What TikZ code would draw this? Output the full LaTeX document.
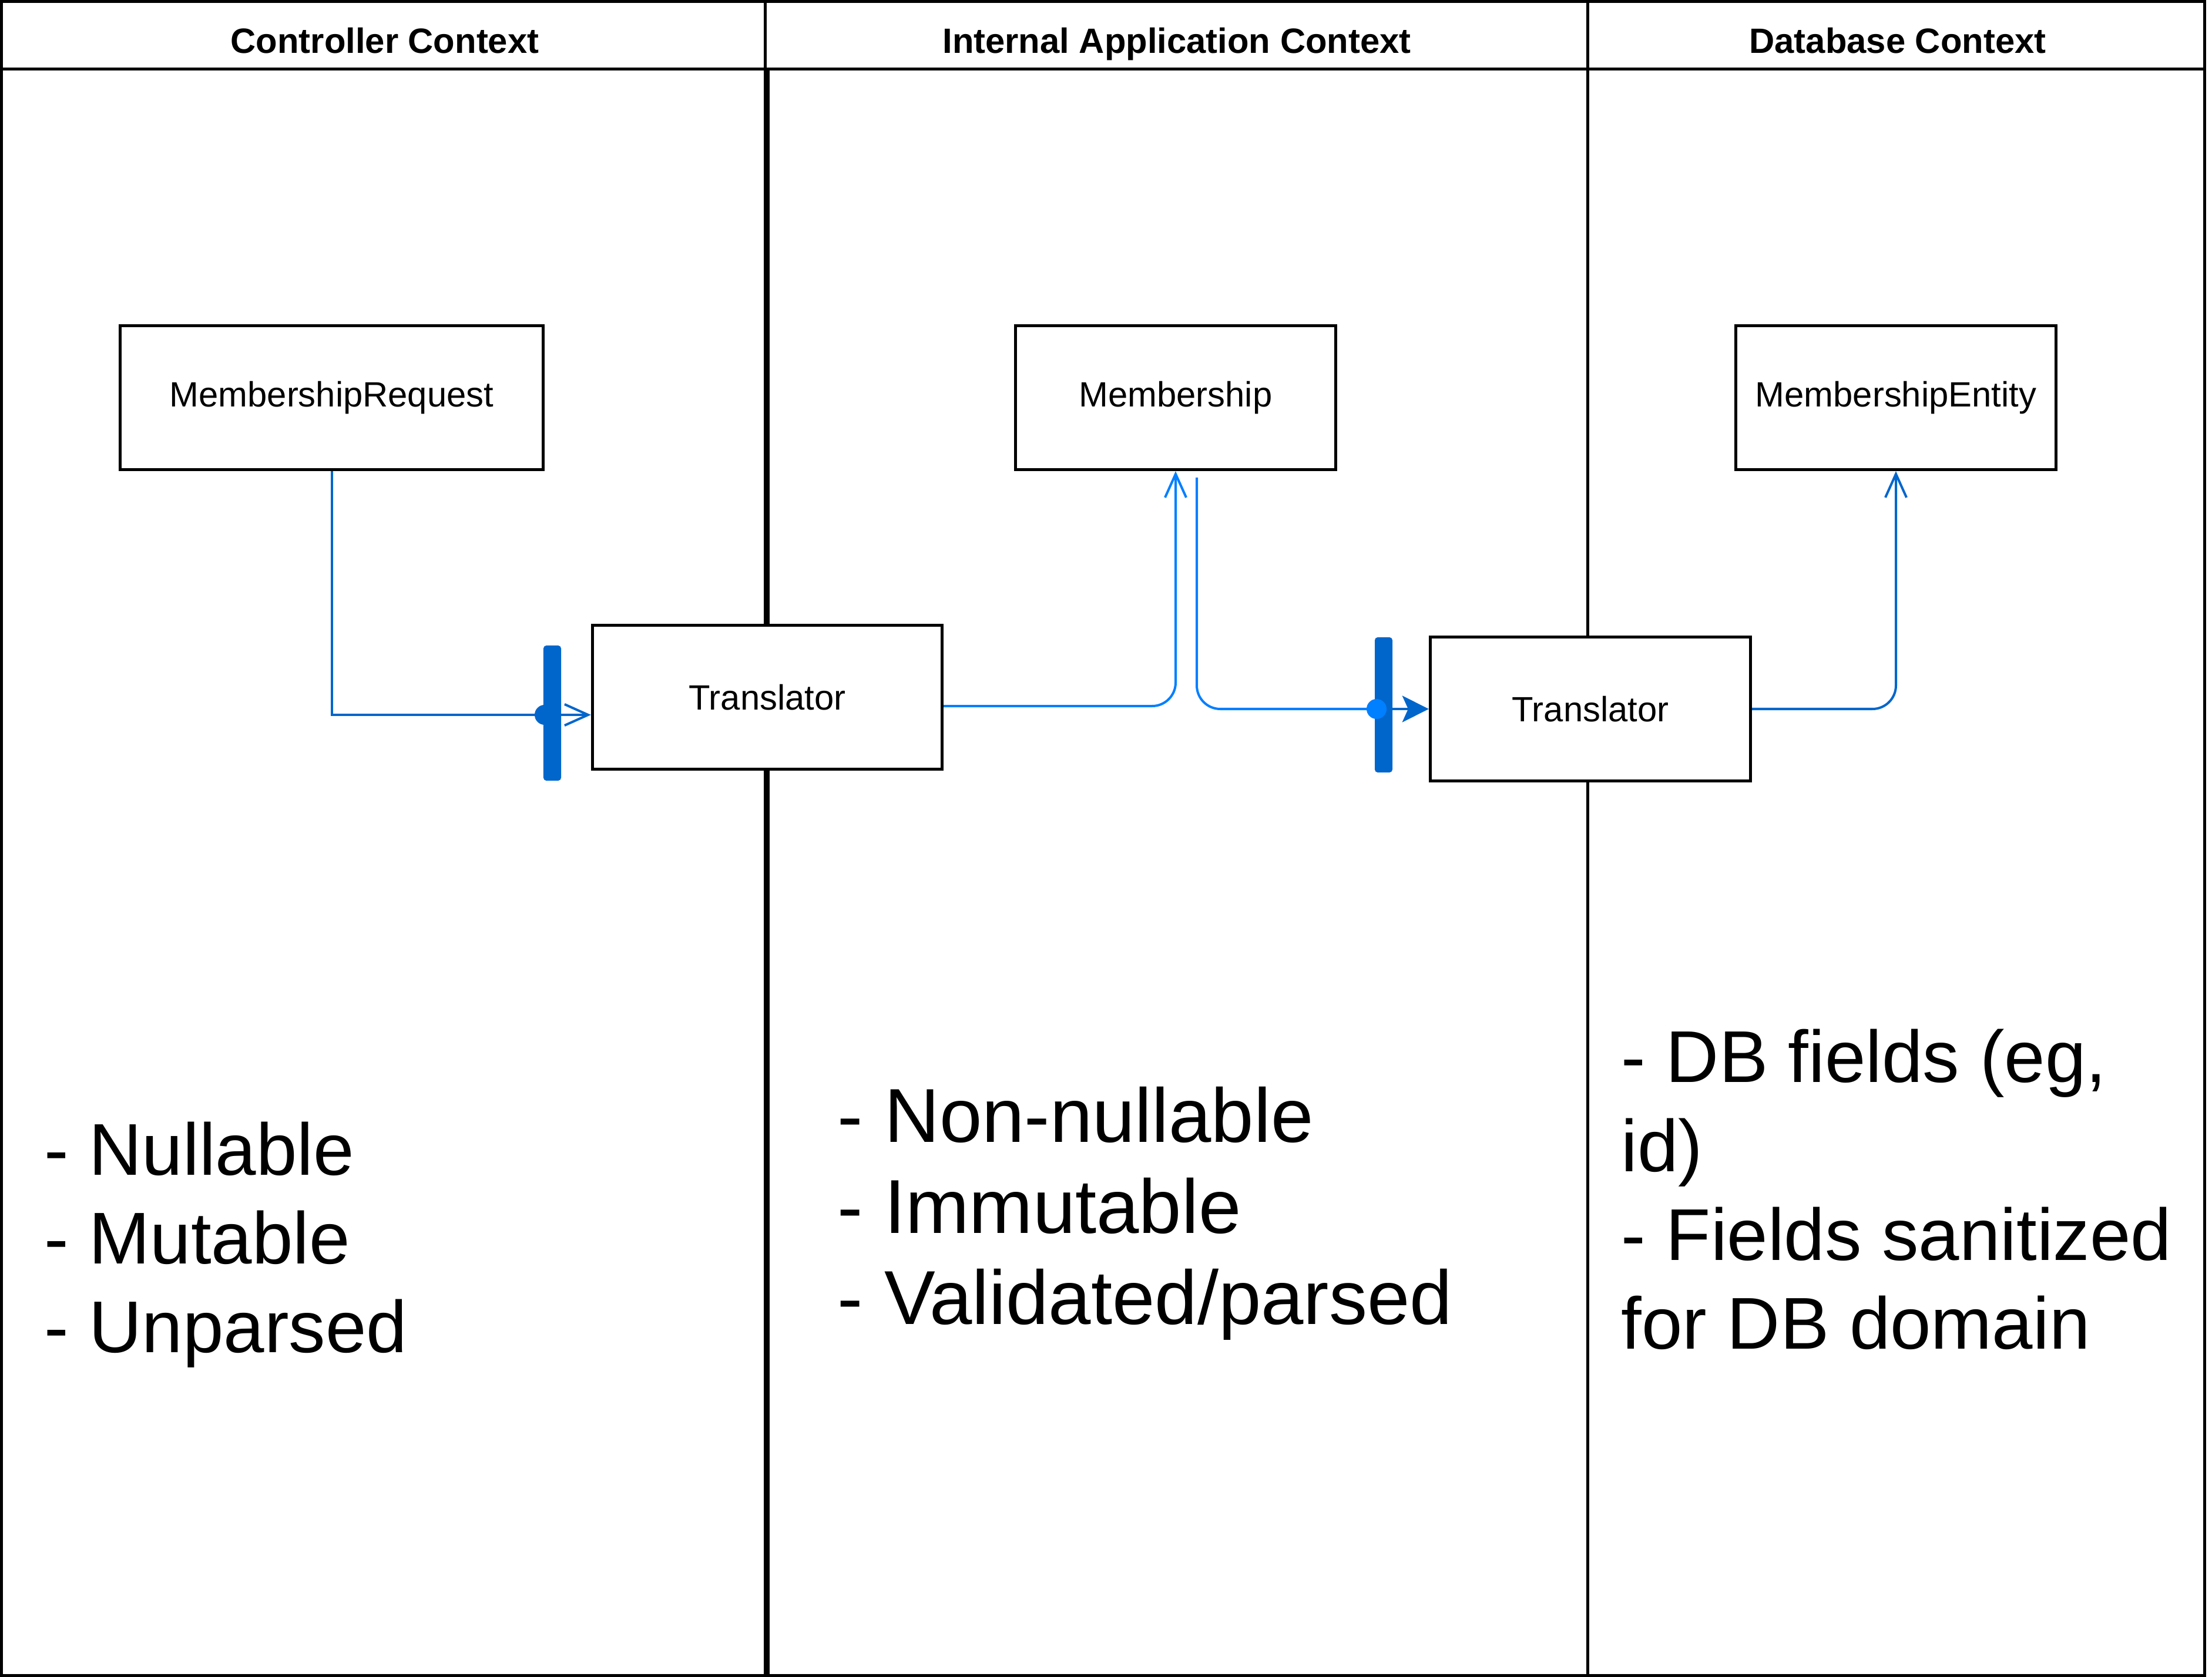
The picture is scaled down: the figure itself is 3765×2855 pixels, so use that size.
\documentclass[tikz,border=0pt]{standalone}
\usepackage{fontspec}
\setmainfont{Liberation Sans}
\usetikzlibrary{positioning, arrows.meta, calc}
\definecolor{ifblue}{HTML}{0066CC}
\definecolor{lineblue}{HTML}{007FFF}

\begin{document}
\begin{tikzpicture}[x=0.01cm, y=-0.01cm]
	\tikzset{
		frame line/.style={line width=0.05cm, black},
		box/.style={draw, fill=white, line width=0.05cm, minimum height=2.45cm, inner sep=0pt, font=\fontsize{17}{20}\selectfont},
		header/.style={anchor=base, font=\fontsize{17}{20}\selectfont\bfseries},
		note/.style={anchor=west, align=left, inner sep=0pt, font=\fontsize{35.5}{43}\selectfont},
		iface bar/.style={fill=ifblue, rounded corners=0.05cm, minimum width=0.3cm, minimum height=2.3cm, inner sep=0pt},
		iface dot/.style={circle, fill=#1, minimum size=0.34cm, inner sep=0pt},
		flow/.style={line width=0.04cm, rounded corners=0.4cm},
		open tip/.style={-{Straight Barb[length=0.4cm, width=0.36cm]}}
	}
	\useasboundingbox (0,0) rectangle (3765,2855);
	
	% lanes
	\draw[frame line] (2.5,2.5) rectangle (3752.5,2852.5);
	\draw[frame line] (2.5,117.5) -- (3752.5,117.5);
	\draw[frame line] (1302.5,2.5) -- (1302.5,117.5);
	\draw[line width=0.1cm] (1305,117.5) -- (1305,2852.5);
	\draw[frame line] (2702.5,2.5) -- (2702.5,2852.5);
	\node[header] (hCtrl) at (655,91) {Controller Context};
	\node[header] (hApp) at (2003,91) {Internal Application Context};
	\node[header] (hDb) at (3230,91) {Database Context};
	
	% classes
	\node[box, minimum width=7.2cm] (req) at (564.5,677) {MembershipRequest};
	\node[box, minimum width=5.45cm] (mem) at (2001,677) {Membership};
	\node[box, minimum width=5.45cm] (ent) at (3227,677) {MembershipEntity};
	\node[box, minimum width=5.95cm] (trA) at (1306,1187) {Translator};
	\node[box, minimum width=5.45cm] (trB) at (2707,1207) {Translator};
	
	% interfaces
	\node[iface bar] (barA) at (940,1214) {};
	\node[iface bar] (barB) at (2355,1200) {};
	\coordinate (dotA) at (927,1217);
	\coordinate (dotB) at (2343,1207);
	
	% flows
	\draw[ifblue, line width=0.04cm] (req.south) |- (dotA);
	\draw[ifblue, line width=0.04cm, open tip] (dotA) -- (dotA -| trA.west);
	\draw[flow, lineblue, open tip] ([yshift=-0.15cm]trA.east) -| (mem.south);
	\draw[flow, lineblue] ([xshift=0.36cm, yshift=-0.11cm]mem.south) |- (dotB);
	\draw[ifblue, line width=0.04cm, -{Stealth[length=0.45cm, width=0.45cm, inset=0.1cm]}] (dotB) -- (trB.west);
	\draw[flow, ifblue, open tip] (trB.east) -| (ent.south);
	\node[iface dot=ifblue] (knobA) at (dotA) {};
	\node[iface dot=lineblue] (knobB) at (dotB) {};
	
	% notes
	\node[note] (noteCtrl) at (75,2119) {- Nullable\\- Mutable\\- Unparsed};
	\node[note, font=\fontsize{37}{44}\selectfont] (noteApp) at (1425,2066) {- Non-nullable\\- Immutable\\- Validated/parsed};
	\node[note] (noteDb) at (2759,2025) {- DB fields (eg,\\id)\\- Fields sanitized\\for DB domain};
\end{tikzpicture}
\end{document}
